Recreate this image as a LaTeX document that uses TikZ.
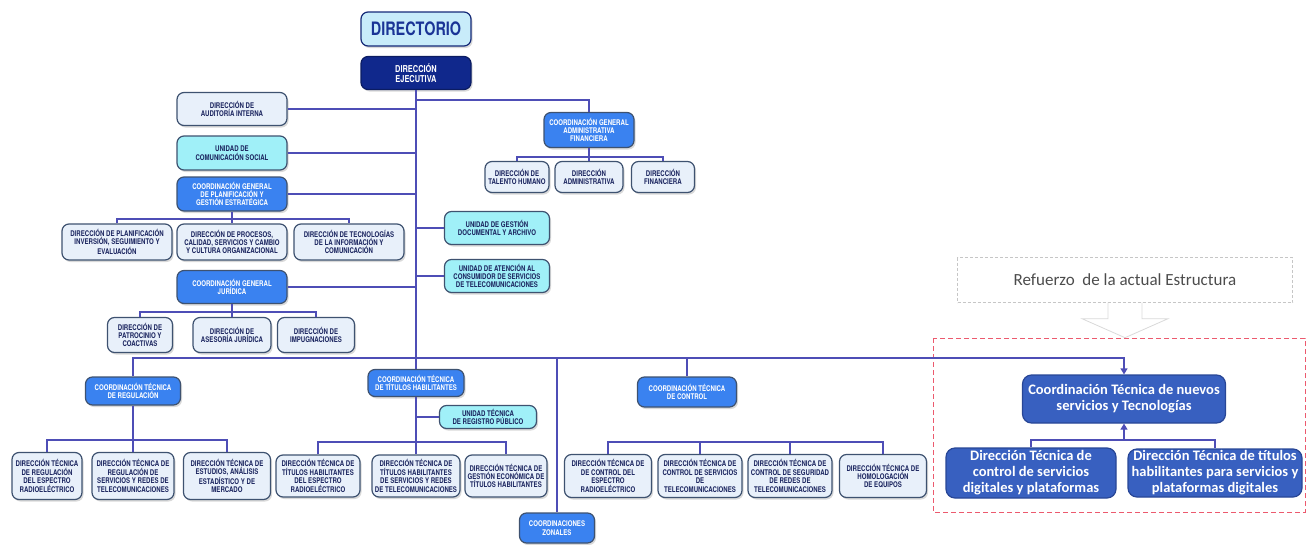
\documentclass[tikz,border=0pt]{standalone}
\usepackage{fontspec}
\setmainfont{TeX Gyre Heros}
\newfontfamily\condfont[FakeStretch=0.78]{TeX Gyre Heros}
\newfontfamily\calfont{Carlito}
\usetikzlibrary{positioning}
\usetikzlibrary{arrows.meta}
\usetikzlibrary{shadows}

\definecolor{wireblue}{RGB}{78,78,182}
\definecolor{boxline}{RGB}{62,82,112}
\definecolor{boxtext}{RGB}{28,38,96}
\definecolor{litefill}{RGB}{232,240,250}
\definecolor{cyanfill}{RGB}{160,240,248}
\definecolor{coordfill}{RGB}{58,130,240}
\definecolor{navyfill}{RGB}{16,40,140}
\definecolor{dirfill}{RGB}{200,236,250}
\definecolor{dirtext}{RGB}{26,52,150}
\definecolor{newfill}{RGB}{56,96,192}
\definecolor{newline}{RGB}{40,70,150}
\definecolor{reddash}{RGB}{236,90,110}

\begin{document}
\begin{tikzpicture}[
	x = 1pt, y = -1pt,
	box/.style = {
	  draw = boxline, line width = 1.2pt, rounded corners = 7pt,
	  align = center, inner sep = 1pt, text = boxtext,
	  font = \condfont\bfseries\fontsize{7.8}{8.4}\selectfont,
	  drop shadow = {opacity = .3, shadow xshift = 1.5pt, shadow yshift = -2pt},
	},
	lite/.style = {box, fill = litefill},
	uni/.style = {box, fill = cyanfill},
	coord/.style = {box, fill = coordfill, text = white},
	newbox/.style = {
	  draw = newline, line width = 1.2pt, fill = newfill, rounded corners = 9pt,
	  text = white, align = center, inner sep = 1pt,
	  font = \calfont\bfseries\fontsize{14.5}{16}\selectfont,
	},
	wh/.style 2 args = {minimum width = #1, minimum height = #2},
	wire/.style = {draw = wireblue, line width = 1.2pt},
	tip/.style = {-{Triangle[length = 6pt, width = 7pt]}},
  ]
  \useasboundingbox (0,0) rectangle (1307,544);

  % top
  \node[box, wh = {110}{34}, fill = dirfill, draw = dirtext!80!black, text = dirtext,
	font = \condfont\bfseries\fontsize{18.5}{19}\selectfont] (dir) at (416,29) {DIRECTORIO};
  \node[box, wh = {110}{33}, fill = navyfill, draw = navyfill!70!black, text = white,
	font = \condfont\bfseries\fontsize{9.5}{10}\selectfont] (eje) at (416,73) {DIRECCIÓN\\EJECUTIVA};

  % left column
  \node[lite, wh = {110}{33}] (aud) at (232,109) {DIRECCIÓN DE\\AUDITORÍA INTERNA};
  \node[uni, wh = {110}{34}] (com) at (232,153) {UNIDAD DE\\COMUNICACIÓN SOCIAL};
  \node[coord, wh = {110}{34}] (cgp) at (232,194) {COORDINACIÓN GENERAL\\DE PLANIFICACIÓN Y\\GESTIÓN ESTRATÉGICA};
  \node[lite, wh = {110}{36}] (pla1) at (117,242) {DIRECCIÓN DE PLANIFICACIÓN\\INVERSIÓN, SEGUIMIENTO Y\\EVALUACIÓN};
  \node[lite, wh = {110}{36}] (pla2) at (232,242) {DIRECCIÓN DE PROCESOS,\\CALIDAD, SERVICIOS Y CAMBIO\\Y CULTURA ORGANIZACIONAL};
  \node[lite, wh = {110}{36}] (pla3) at (349,242) {DIRECCIÓN DE TECNOLOGÍAS\\DE LA INFORMACIÓN Y\\COMUNICACIÓN};
  \node[coord, wh = {110}{33}] (cgj) at (232,287) {COORDINACIÓN GENERAL\\JURÍDICA};
  \node[lite, wh = {65}{35}] (jur1) at (140,335) {DIRECCIÓN DE\\PATROCINIO Y\\COACTIVAS};
  \node[lite, wh = {78}{35}] (jur2) at (232,335) {DIRECCIÓN DE\\ASESORÍA JURÍDICA};
  \node[lite, wh = {77}{35}] (jur3) at (316,335) {DIRECCIÓN DE\\IMPUGNACIONES};

  % right column
  \node[coord, wh = {90}{35}] (cgaf) at (589,130) {COORDINACIÓN GENERAL\\ADMINISTRATIVA\\FINANCIERA};
  \node[lite, wh = {64}{31}] (adm1) at (517,177) {DIRECCIÓN DE\\TALENTO HUMANO};
  \node[lite, wh = {68}{31}] (adm2) at (589,177) {DIRECCIÓN\\ADMINISTRATIVA};
  \node[lite, wh = {63}{31}] (adm3) at (663,177) {DIRECCIÓN\\FINANCIERA};
  \node[uni, wh = {105}{33}] (doc) at (497,228) {UNIDAD DE GESTIÓN\\DOCUMENTAL Y ARCHIVO};
  \node[uni, wh = {105}{33}] (con) at (497,276) {UNIDAD DE ATENCIÓN AL\\CONSUMIDOR DE SERVICIOS\\DE TELECOMUNICACIONES};

  % technical coordinations
  \node[coord, wh = {95}{28}] (ctr) at (133,391) {COORDINACIÓN TÉCNICA\\DE REGULACIÓN};
  \node[lite, wh = {70}{47}] (ctr1) at (47,476) {DIRECCIÓN TÉCNICA\\DE REGULACIÓN\\DEL ESPECTRO\\RADIOELÉCTRICO};
  \node[lite, wh = {82}{47}] (ctr2) at (133,476) {DIRECCIÓN TÉCNICA DE\\REGULACIÓN DE\\SERVICIOS Y REDES DE\\TELECOMUNICACIONES};
  \node[lite, wh = {87}{47}] (ctr3) at (227,476) {DIRECCIÓN TÉCNICA DE\\ESTUDIOS, ANÁLISIS\\ESTADÍSTICO Y DE\\MERCADO};

  \node[coord, wh = {96}{27}] (cth) at (416,383) {COORDINACIÓN TÉCNICA\\DE TÍTULOS HABILITANTES};
  \node[uni, wh = {97}{23}] (rp) at (488,417) {UNIDAD TÉCNICA\\DE REGISTRO PÚBLICO};
  \node[lite, wh = {84}{42}] (cth1) at (318,476) {DIRECCIÓN TÉCNICA DE\\TÍTULOS HABILITANTES\\DEL ESPECTRO\\RADIOELÉCTRICO};
  \node[lite, wh = {88}{42}] (cth2) at (416,476) {DIRECCIÓN TÉCNICA DE\\TÍTULOS HABILITANTES\\DE SERVICIOS Y REDES\\DE TELECOMUNICACIONES};
  \node[lite, wh = {82}{42}] (cth3) at (506,476) {DIRECCIÓN TÉCNICA DE\\GESTIÓN ECONÓMICA DE\\TÍTULOS HABILITANTES};

  \node[coord, wh = {99}{30}] (ctc) at (687,392) {COORDINACIÓN TÉCNICA\\DE CONTROL};
  \node[lite, wh = {87}{43}] (ctc1) at (608,476) {DIRECCIÓN TÉCNICA DE\\DE CONTROL DEL\\ESPECTRO\\RADIOELÉCTRICO};
  \node[lite, wh = {84}{43}] (ctc2) at (700,476) {DIRECCIÓN TÉCNICA DE\\CONTROL DE SERVICIOS\\DE\\TELECOMUNICACIONES};
  \node[lite, wh = {84}{43}] (ctc3) at (790,476) {DIRECCIÓN TÉCNICA DE\\CONTROL DE SEGURIDAD\\DE REDES DE\\TELECOMUNICACIONES};
  \node[lite, wh = {87}{43}] (ctc4) at (883,476) {DIRECCIÓN TÉCNICA DE\\HOMOLOGACIÓN\\DE EQUIPOS};

  \node[coord, wh = {75}{30}] (zon) at (557,528) {COORDINACIONES\\ZONALES};

  % new structure
  \node[draw = gray!45, dash pattern = on 3pt off 2pt, wh = {335}{45}, text = black!70,
	font = \calfont\fontsize{17}{19}\selectfont] (ref) at (1125,280) {Refuerzo \ de la actual Estructura};
  \draw[gray!30, line width = .8pt] (ref.south) ++(-17,0) -- ++(0,16) -- ++(-26,0)
	-- ++(43,19) -- ++(43,-19) -- ++(-26,0) -- ++(0,-16);
  \draw[reddash, line width = .9pt, dash pattern = on 5pt off 3pt] (933,338) rectangle (1305,512);

  \node[newbox, wh = {203}{48}] (ctn) at (1124,399) {Coordinación Técnica de nuevos\\servicios y Tecnologías};
  \node[newbox, wh = {170}{50}] (ctn1) at (1031,473) {Dirección Técnica de\\control de servicios\\digitales y plataformas};
  \node[newbox, wh = {174}{48}] (ctn2) at (1215,473) {Dirección Técnica de títulos\\habilitantes para servicios y\\plataformas digitales};

  % bus lines
  \coordinate (bus) at (416,358);
  \coordinate (b-cgp) at (232,219);
  \coordinate (b-cgj) at (232,312);
  \coordinate (b-cgaf) at (589,157);
  \coordinate (b-ctr) at (133,440);
  \coordinate (b-cth) at (416,442);
  \coordinate (b-ctc) at (700,442);
  \coordinate (b-ctn) at (1124,440);

  % trunk
  \draw[wire] (eje.south) -- (cth.north);
  \draw[wire] (cth.south) -- (cth2.north);
  \foreach \n in {aud, com, cgp, cgj} {
	\draw[wire] (\n.east) -- (\n.east -| eje.south);
  }
  \foreach \n in {doc, con} {
	\draw[wire] (\n.west) -- (\n.west -| eje.south);
  }
  \draw[wire] (rp.west) -- (rp.west -| cth.south);
  \draw[wire] (eje.south |- 0,100) -| (cgaf.north);

  % branches
  \draw[wire] (cgp.south) -- (pla2.north);
  \draw[wire] (pla1.north) |- (b-cgp) -| (pla3.north);
  \draw[wire] (cgj.south) -- (jur2.north);
  \draw[wire] (jur1.north) |- (b-cgj) -| (jur3.north);
  \draw[wire] (cgaf.south) -- (adm2.north);
  \draw[wire] (adm1.north) |- (b-cgaf) -| (adm3.north);

  \draw[wire, tip] (ctr.north) |- (bus) -| (ctn.north);
  \draw[wire] (ctc.north) -- (ctc.north |- bus);
  \draw[wire] (zon.north) -- (zon.north |- bus);

  \draw[wire] (ctr.south) -- (ctr2.north);
  \draw[wire] (ctr1.north) |- (b-ctr) -| (ctr3.north);
  \draw[wire] (cth1.north) |- (b-cth) -| (cth3.north);
  \draw[wire] (ctc1.north) |- (b-ctc) -| (ctc4.north);
  \draw[wire] (ctc2.north) -- (ctc2.north |- b-ctc);
  \draw[wire] (ctc3.north) -- (ctc3.north |- b-ctc);

  \draw[wire] (ctn1.north) |- (b-ctn) -| (ctn2.north);
  \draw[wire, tip] (b-ctn) -- (ctn.south);
\end{tikzpicture}
\end{document}
